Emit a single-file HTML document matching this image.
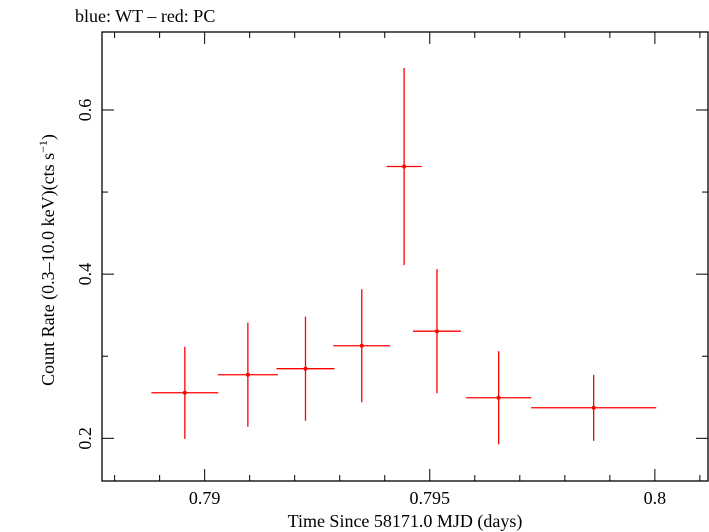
<!DOCTYPE html>
<html><head><meta charset="utf-8"><style>
body{margin:0;background:#fff;}
svg{display:block;font-family:"Liberation Serif",serif;}
</style></head><body>
<svg id="chart" width="709" height="532" viewBox="0 0 709 532">
<text x="75" y="22" font-size="18">blue: WT – red: PC</text>
<rect x="102" y="32" width="606" height="449" fill="none" stroke="#000" stroke-width="1.3"/>
<g id="ticks"></g>
<g id="marks"></g>
<text x="405" y="527" font-size="18" text-anchor="middle">Time Since 58171.0 MJD (days)</text>
<text transform="translate(54,260) rotate(-90)" font-size="18" text-anchor="middle">Count Rate (0.3–10.0 keV)(cts s<tspan font-size="12" dy="-7">−1</tspan><tspan dy="7">)</tspan></text>
</svg>
<script>
const xValues=[0.78956,0.79096,0.79224,0.79349,0.79443,0.79516,0.79653,0.79864];
const xErrors=[0.000744,0.000667,0.000644,0.000633,0.000389,0.000533,0.000722,0.00139];
const yValues=[0.2555,0.2774,0.2848,0.3128,0.5311,0.3305,0.2494,0.2372];
const yErrors=[0.0561,0.0634,0.0634,0.0689,0.1201,0.0756,0.0567,0.0402];
const xTickLabels=["0.79","0.795","0.8"];
const yTickLabels=["0.2","0.4","0.6"];
const NS="http://www.w3.org/2000/svg";
const L=102,R=708,T=32,B=481;
const xMin=0.78772,xMax=0.80118,yMin=0.148,yMax=0.695;
function sx(v){return L+(v-xMin)/(xMax-xMin)*(R-L);}
function sy(v){return B-(v-yMin)/(yMax-yMin)*(B-T);}
function mk(tag,attrs,parent){const e=document.createElementNS(NS,tag);for(const k in attrs)e.setAttribute(k,attrs[k]);parent.appendChild(e);return e;}
const ticks=document.getElementById('ticks');
for(let i=0;i<=14;i++){
  const v=0.788+i*0.001; if(v>xMax)break;
  const x=sx(v); const major=(i%5==2);
  const len=major?12:6;
  const t1=mk('line',{x1:x,x2:x,y1:B,y2:B-len,stroke:'#000','stroke-width':1},ticks);
  
  
  const t2=mk('line',{x1:x,x2:x,y1:T,y2:T+len,stroke:'#000','stroke-width':1},ticks);
  
  
}
xTickLabels.forEach(s=>{
  const t=mk('text',{x:sx(parseFloat(s)),y:504,'font-size':18,'text-anchor':'middle'},ticks);
  t.textContent=s;
  
  
});
for(let i=0;i<=4;i++){
  const v=0.2+i*0.1;
  const y=sy(v); const major=(i%2==0);
  const len=major?12:6;
  const t1=mk('line',{x1:L,x2:L+len,y1:y,y2:y,stroke:'#000','stroke-width':1},ticks);
  
  
  const t2=mk('line',{x1:R,x2:R-len,y1:y,y2:y,stroke:'#000','stroke-width':1},ticks);
  
  
}
yTickLabels.forEach(s=>{
  const y=sy(parseFloat(s));
  const t=mk('text',{transform:`translate(91,${y}) rotate(-90)`,'font-size':18,'text-anchor':'middle'},ticks);
  t.textContent=s;
  
  
});
const marks=document.getElementById('marks');
xValues.forEach((xv,i)=>{
  const g=mk('g',{},marks);
  
  
  const cx=sx(xv),cy=sy(yValues[i]);
  mk('line',{x1:sx(xv-xErrors[i]),x2:sx(xv+xErrors[i]),y1:cy,y2:cy,stroke:'#f00','stroke-width':1.3},g);
  mk('line',{x1:cx,x2:cx,y1:sy(yValues[i]-yErrors[i]),y2:sy(yValues[i]+yErrors[i]),stroke:'#f00','stroke-width':1.3},g);
  mk('circle',{cx:cx,cy:cy,r:2,fill:'#f00'},g);
});
</script>
</body></html>
